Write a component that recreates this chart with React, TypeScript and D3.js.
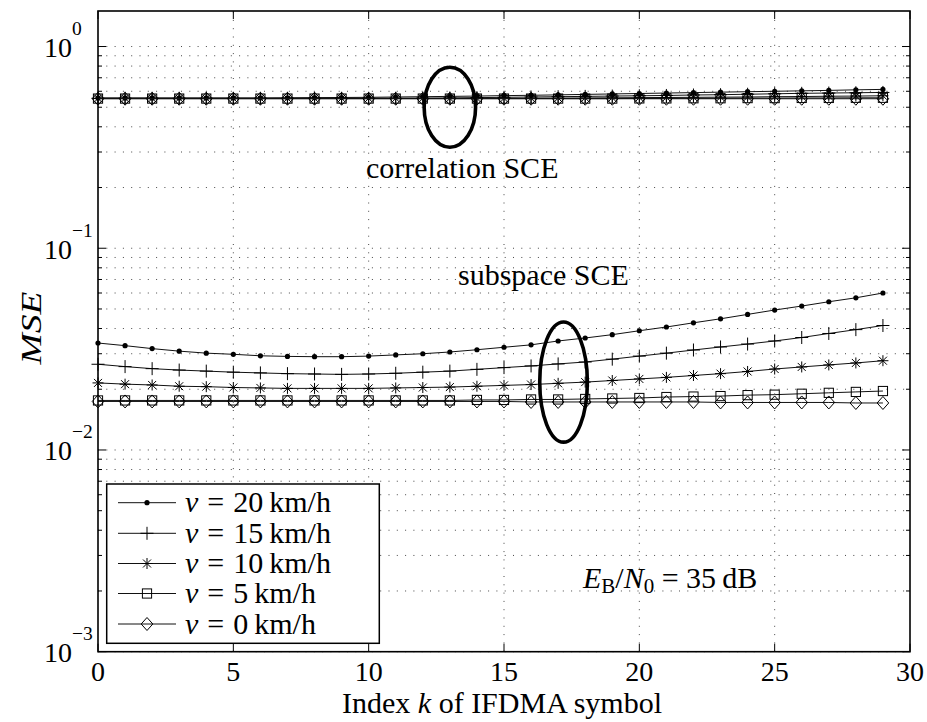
import React from "react";
import * as d3 from "d3";

const K = [0,1,2,3,4,5,6,7,8,9,10,11,12,13,14,15,16,17,18,19,20,21,22,23,24,25,26,27,28,29];

const sub20 = [0.0339,0.0329,0.0318,0.0309,0.0302,0.0298,0.0293,0.0291,0.0290,0.0290,0.0292,0.0296,0.0300,0.0306,0.0314,0.0323,0.0332,0.0347,0.0359,0.0373,0.0390,0.0407,0.0427,0.0447,0.0470,0.0494,0.0517,0.0543,0.0568,0.0600];
const sub15 = [0.0266,0.0259,0.0253,0.0249,0.0246,0.0243,0.0241,0.0239,0.0238,0.0237,0.0238,0.0240,0.0243,0.0246,0.0251,0.0256,0.0261,0.0267,0.0273,0.0282,0.0292,0.0302,0.0313,0.0324,0.0335,0.0347,0.0361,0.0378,0.0395,0.0414];
const sub10 = [0.0215,0.0212,0.0210,0.0207,0.0206,0.0204,0.0203,0.0202,0.0202,0.0202,0.0202,0.0203,0.0204,0.0205,0.0207,0.0209,0.0211,0.0214,0.0217,0.0221,0.0225,0.0229,0.0234,0.0239,0.0245,0.0252,0.0258,0.0264,0.0270,0.0277];
const sub5 = [0.0176,0.0176,0.0176,0.0176,0.0176,0.0176,0.0176,0.0176,0.0176,0.0176,0.0176,0.0176,0.0176,0.0176,0.0177,0.0177,0.0178,0.0178,0.0179,0.0180,0.0181,0.0183,0.0184,0.0185,0.0187,0.0188,0.0190,0.0192,0.0194,0.0196];
const sub0 = [0.0174,0.0174,0.0174,0.0174,0.0174,0.0174,0.0174,0.0174,0.0174,0.0174,0.0174,0.0174,0.0174,0.0174,0.0174,0.0174,0.0173,0.0173,0.0173,0.0173,0.0173,0.0173,0.0173,0.0172,0.0172,0.0172,0.0172,0.0172,0.0171,0.0171];

const corr20 = [0.556,0.556,0.556,0.556,0.556,0.556,0.556,0.557,0.558,0.559,0.560,0.562,0.564,0.566,0.568,0.571,0.573,0.576,0.579,0.582,0.585,0.588,0.591,0.594,0.597,0.600,0.603,0.606,0.610,0.613];
const corr15 = [0.554,0.554,0.554,0.554,0.554,0.554,0.554,0.554,0.554,0.554,0.554,0.554,0.555,0.556,0.558,0.560,0.562,0.564,0.566,0.568,0.570,0.572,0.575,0.577,0.580,0.583,0.586,0.588,0.590,0.592];
const corr10 = [0.553,0.553,0.553,0.553,0.553,0.553,0.553,0.553,0.553,0.553,0.553,0.553,0.553,0.553,0.553,0.553,0.554,0.555,0.556,0.557,0.558,0.559,0.560,0.561,0.562,0.564,0.565,0.567,0.568,0.570];
const corr5 = [0.552,0.552,0.552,0.552,0.552,0.552,0.552,0.552,0.552,0.552,0.552,0.552,0.552,0.552,0.552,0.552,0.552,0.552,0.552,0.552,0.553,0.553,0.554,0.554,0.555,0.555,0.556,0.556,0.557,0.557];
const corr0 = [0.551,0.551,0.551,0.551,0.551,0.551,0.551,0.551,0.551,0.551,0.551,0.551,0.551,0.551,0.551,0.551,0.551,0.551,0.551,0.551,0.551,0.551,0.551,0.551,0.551,0.551,0.551,0.551,0.551,0.551];

const speeds = ["20", "15", "10", "5", "0"];
const markerTypes = ["dot", "plus", "star", "square", "diamond"];
const subSeries = [sub20, sub15, sub10, sub5, sub0];
const corrSeries = [corr20, corr15, corr10, corr5, corr0];

const xTicks = [0, 5, 10, 15, 20, 25, 30];
const yMajor = [1e-3, 1e-2, 1e-1, 1];
const yExp = ["\u22123", "\u22122", "\u22121", "0"];

const W = 927, H = 722;
const L = 98, R = 910, T = 11, B = 651.7;
const FONT = '"Liberation Serif"';

function Marker({ type, cx, cy }: { type: string; cx: number; cy: number }) {
  const s = { stroke: "#000", strokeWidth: 1, fill: "none" };
  if (type === "dot") return <circle cx={cx} cy={cy} r={2.6} fill="#000" />;
  if (type === "plus") return <path d={`M${cx - 6.5},${cy}H${cx + 6.5}M${cx},${cy - 6.5}V${cy + 6.5}`} {...s} />;
  if (type === "star") {
    const a = 5.5, b = 4;
    return <path d={`M${cx - a},${cy}H${cx + a}M${cx},${cy - a}V${cy + a}M${cx - b},${cy - b}L${cx + b},${cy + b}M${cx - b},${cy + b}L${cx + b},${cy - b}`} {...s} />;
  }
  if (type === "square") return <rect x={cx - 4.6} y={cy - 4.6} width={9.2} height={9.2} {...s} />;
  return <path d={`M${cx},${cy - 6.5}L${cx + 5.8},${cy}L${cx},${cy + 6.5}L${cx - 5.8},${cy}Z`} {...s} />;
}

export default function App() {
  const x = d3.scaleLinear().domain([0, 30]).range([L, R]);
  const y = d3.scaleLog().domain([1e-3, 1.5]).range([B, T]);
  const line = d3.line<number>().x((_, i) => x(K[i])).y((d) => y(d));

  const minor: number[] = [];
  for (let e = -3; e <= 0; e++) {
    for (let m = 1; m <= 9; m++) {
      const v = m * Math.pow(10, e);
      if (v <= 1.5) minor.push(v);
    }
  }

  const gridStyle = { stroke: "#333", strokeWidth: 0.9, strokeDasharray: "1 7.3" };

  const renderSeries = (series: number[][], key: string) =>
    series.map((s, si) => (
      <g key={key + si}>
        <path d={line(s) || ""} fill="none" stroke="#111" strokeWidth={1} />
        {s.map((v, i) => (
          <Marker key={i} type={markerTypes[si]} cx={x(K[i])} cy={y(v)} />
        ))}
      </g>
    ));

  const legX = 106.7, legY = 484, legW = 272.6, legH = 159.3;
  const rowY = [502.7, 533.3, 563.5, 593.5, 624];
  const txt = { fontFamily: FONT };

  return (
    <svg width={W} height={H} style={{ position: "absolute", left: 0, top: 0, background: "#fff" }}>
      <rect x={0} y={0} width={W} height={H} fill="#fff" />
      {/* grid */}
      {xTicks.slice(1, -1).map((t) => (
        <line key={"gx" + t} x1={x(t)} x2={x(t)} y1={B} y2={T} {...gridStyle} />
      ))}
      {minor.map((v, i) => (
        <line key={"gy" + i} x1={L} x2={R} y1={y(v)} y2={y(v)} {...gridStyle} />
      ))}
      {/* ticks */}
      {xTicks.map((t) => (
        <g key={"tx" + t}>
          <line x1={x(t)} x2={x(t)} y1={B} y2={B - 8} stroke="#000" strokeWidth={1} />
          <line x1={x(t)} x2={x(t)} y1={T} y2={T + 8} stroke="#000" strokeWidth={1} />
        </g>
      ))}
      {minor.map((v, i) => {
        const major = yMajor.includes(v);
        const len = major ? 8 : 4;
        return (
          <g key={"ty" + i}>
            <line x1={L} x2={L + len} y1={y(v)} y2={y(v)} stroke="#000" strokeWidth={1} />
            <line x1={R} x2={R - len} y1={y(v)} y2={y(v)} stroke="#000" strokeWidth={1} />
          </g>
        );
      })}
      {/* data */}
      {renderSeries(corrSeries, "c")}
      {renderSeries(subSeries, "s")}
      {/* axes box */}
      <rect x={L} y={T} width={R - L} height={B - T} fill="none" stroke="#000" strokeWidth={1.6} />
      {/* tick labels */}
      {xTicks.map((t) => (
        <text key={"lx" + t} x={x(t)} y={681} textAnchor="middle" fontSize={28} style={txt}>{t}</text>
      ))}
      {yMajor.map((v, i) => (
        <g key={"ly" + i}>
          <text x={72} y={y(v) + 10.5} textAnchor="end" fontSize={28} style={txt}>10</text>
          <text x={72} y={y(v) - 11.5} textAnchor="start" fontSize={19.5} style={txt}>{yExp[i]}</text>
        </g>
      ))}
      {/* axis labels */}
      <text x={502} y={713} textAnchor="middle" fontSize={30} style={txt}>
        Index <tspan fontStyle="italic">k</tspan> of IFDMA symbol
      </text>
      <text transform={`translate(41,328) rotate(-90) scale(1.25,1)`} textAnchor="middle" fontSize={30} fontStyle="italic" style={txt}>MSE</text>
      {/* annotations */}
      <ellipse cx={x(13)} cy={y(0.5)} rx={x(13.95) - x(13)} ry={(y(0.317) - y(0.79)) / 2} fill="none" stroke="#000" strokeWidth={3.6} />
      <ellipse cx={x(17.2)} cy={y(0.0217)} rx={x(18.08) - x(17.2)} ry={(y(0.01094) - y(0.0431)) / 2} fill="none" stroke="#000" strokeWidth={3.6} />
      <text x={366} y={178} fontSize={30} style={txt}>correlation SCE</text>
      <text x={458} y={285} fontSize={30} style={txt}>subspace SCE</text>
      <text x={583} y={588} fontSize={30} style={txt}>
        <tspan fontStyle="italic">E</tspan>
        <tspan fontSize={21} dy={5}>B</tspan>
        <tspan dy={-5}>/</tspan>
        <tspan fontStyle="italic">N</tspan>
        <tspan fontSize={21} dy={5}>0</tspan>
        <tspan dy={-5}>{" = 35\u2009dB"}</tspan>
      </text>
      {/* legend */}
      <rect x={legX} y={legY} width={legW} height={legH} fill="#fff" stroke="#000" strokeWidth={1.5} />
      {speeds.map((sp, i) => (
        <g key={"lg" + i}>
          <line x1={118} x2={176} y1={rowY[i]} y2={rowY[i]} stroke="#111" strokeWidth={1} />
          <Marker type={markerTypes[i]} cx={147} cy={rowY[i]} />
          <text x={185} y={rowY[i] + 9.5} fontSize={30} style={txt}>
            <tspan fontStyle="italic">v</tspan>
            <tspan dx={9}>=</tspan>
            <tspan dx={9}>{`${sp}\u2009km/h`}</tspan>
          </text>
        </g>
      ))}
    </svg>
  );
}
